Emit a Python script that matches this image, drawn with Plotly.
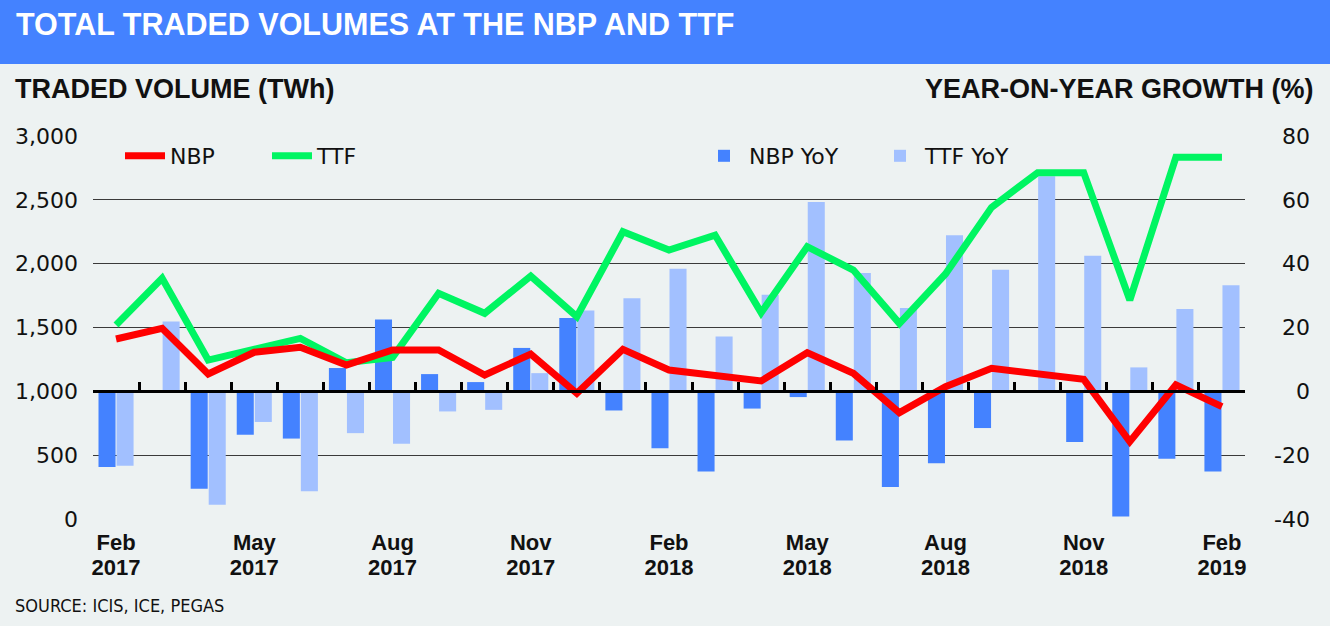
import plotly.graph_objects as go

# ---------------- data ----------------
months = ["Feb 2017", "Mar 2017", "Apr 2017", "May 2017", "Jun 2017", "Jul 2017",
          "Aug 2017", "Sep 2017", "Oct 2017", "Nov 2017", "Dec 2017", "Jan 2018",
          "Feb 2018", "Mar 2018", "Apr 2018", "May 2018", "Jun 2018", "Jul 2018",
          "Aug 2018", "Sep 2018", "Oct 2018", "Nov 2018", "Dec 2018", "Jan 2019",
          "Feb 2019"]

nbp_volume = [1410, 1494, 1136, 1306, 1345, 1206, 1324, 1324, 1128, 1292, 984, 1329,
              1167, 1128, 1081, 1303, 1141, 833, 1036, 1180, 1136, 1094, 606, 1050, 880]
ttf_volume = [1520, 1885, 1245, 1324, 1415, 1224, 1266, 1768, 1611, 1903, 1585, 2250,
              2107, 2224, 1616, 2133, 1950, 1532, 1919, 2441, 2713, 2713, 1715, 2833, 2833]

nbp_yoy = [-23.7, -0.3, -30.5, -13.6, -14.8, 7.3, 22.5, 5.4, 2.9, 13.6, 23.0, -6.0,
           -17.8, -25.1, -5.4, -1.8, -15.4, -30.0, -22.5, -11.5, -0.5, -15.9, -39.2, -21.1, -25.1]
ttf_yoy = [-23.3, 21.9, -35.5, -9.6, -31.3, -13.1, -16.4, -6.3, -5.8, 5.7, 25.3, 29.2,
           38.4, 17.2, 30.3, 59.3, 37.1, 26.1, 48.9, 38.1, 67.4, 42.5, 7.5, 25.8, 33.2]

tick_months = ["Feb 2017", "May 2017", "Aug 2017", "Nov 2017", "Feb 2018",
               "May 2018", "Aug 2018", "Nov 2018", "Feb 2019"]
tick_month_names = ["Feb", "May", "Aug", "Nov", "Feb", "May", "Aug", "Nov", "Feb"]
tick_years = ["2017", "2017", "2017", "2017", "2018", "2018", "2018", "2018", "2019"]

vol_ticks = [0, 500, 1000, 1500, 2000, 2500, 3000]
yoy_ticks = [-40, -20, 0, 20, 40, 60, 80]
yoy_ticktext = ["-40", "-20", "0", "20", "40", "60", "80"]

title_text = "TOTAL TRADED VOLUMES AT THE NBP AND TTF"
left_title = "TRADED VOLUME (TWh)"
right_title = "YEAR-ON-YEAR GROWTH (%)"
source_text = "SOURCE: ICIS, ICE, PEGAS"

# ---------------- style ----------------
W, H = 1330, 626
BG = "#EDF2F2"
BAND = "#4482FF"
NBP_BAR = "#4482FF"
TTF_BAR = "#A2C0FF"
RED = "#FF0000"
GREEN = "#00F562"
TXT = "#111111"
BOLD = "Liberation Sans, Arial, sans-serif"
REG = "DejaVu Sans, sans-serif"

x0, x1 = 93 / W, 1245 / W
yd0, yd1 = 1 - 519 / H, 1 - 136 / H
zero_pos = yd0 + (0 - yoy_ticks[0]) / (yoy_ticks[-1] - yoy_ticks[0]) * (yd1 - yd0)

fig = go.Figure()

# bars on primary axes (x, y = YoY %)
fig.add_trace(go.Bar(x=months, y=nbp_yoy, name="NBP YoY", marker=dict(color=NBP_BAR, line=dict(width=0)),
                     xaxis="x", yaxis="y", legend="legend2", legendrank=1))
fig.add_trace(go.Bar(x=months, y=ttf_yoy, name="TTF YoY", marker=dict(color=TTF_BAR, line=dict(width=0)),
                     xaxis="x", yaxis="y", legend="legend2", legendrank=2))

# invisible helper trace for the zero-line tick axis
fig.add_trace(go.Scatter(x=months, y=nbp_yoy, mode="lines", opacity=0, line=dict(width=0),
                         hoverinfo="skip", showlegend=False, xaxis="x3", yaxis="y"))

# lines on overlay axes (x2, y2 = volume TWh)
fig.add_trace(go.Scatter(x=months, y=ttf_volume, name="TTF", mode="lines",
                         line=dict(color=GREEN, width=7), xaxis="x2", yaxis="y2",
                         legend="legend", legendrank=2))
fig.add_trace(go.Scatter(x=months, y=nbp_volume, name="NBP", mode="lines",
                         line=dict(color=RED, width=7), xaxis="x2", yaxis="y2",
                         legend="legend", legendrank=1))

fig.update_layout(
    width=W, height=H, autosize=False,
    margin=dict(l=0, r=0, t=0, b=0, pad=0, autoexpand=False),
    paper_bgcolor=BG, plot_bgcolor=BG,
    barmode="group", bargap=0.217, bargroupgap=0.055,
    showlegend=True,
    xaxis=dict(domain=[x0, x1], type="category", categoryorder="array", categoryarray=months,
               range=[-0.5, len(months) - 0.5], anchor="y", automargin=False,
               tickmode="array", tickvals=tick_months, ticktext=tick_month_names,
               ticks="", showline=False, showgrid=False, zeroline=False,
               tickfont=dict(family=BOLD, size=22, color=TXT, weight="bold"),
               ticklabelstandoff=8),
    xaxis2=dict(overlaying="x", matches="x", type="category", categoryorder="array",
                categoryarray=months, anchor="y2", side="bottom", automargin=False,
                tickmode="array", tickvals=tick_months, ticktext=tick_years,
                ticks="", showline=False, showgrid=False, zeroline=False,
                tickfont=dict(family=BOLD, size=22, color=TXT, weight="bold"),
                ticklabelstandoff=33),
    xaxis3=dict(overlaying="x", matches="x", type="category", categoryorder="array",
                categoryarray=months, anchor="free", position=zero_pos, automargin=False,
                tickmode="linear", tick0=0, dtick=1, tickson="boundaries",
                ticks="inside", ticklen=8, tickwidth=3, tickcolor="black",
                showticklabels=False, showline=True, linecolor="black", linewidth=3,
                showgrid=False, zeroline=False, layer="above traces"),
    yaxis=dict(domain=[yd0, yd1], range=[yoy_ticks[0], yoy_ticks[-1]], side="right",
               anchor="free", position=1313 / W, automargin=False,
               tickmode="array", tickvals=yoy_ticks, ticktext=yoy_ticktext,
               ticklabelposition="inside", ticklabeloverflow="allow",
               ticks="", showline=False, zeroline=False,
               showgrid=True, gridcolor="#3a3a3a", gridwidth=1.2,
               tickfont=dict(family=REG, size=22, color=TXT)),
    yaxis2=dict(overlaying="y", side="left", anchor="x", range=[vol_ticks[0], vol_ticks[-1]],
                automargin=False,
                tickmode="array", tickvals=vol_ticks, tickformat=",",
                ticks="", showline=False, zeroline=False, showgrid=False,
                ticklabelstandoff=14,
                tickfont=dict(family=REG, size=22, color=TXT)),
    legend=dict(orientation="h", x=120 / W, y=1 - 156 / H, xanchor="left", yanchor="middle",
                bgcolor="rgba(0,0,0,0)", font=dict(family=REG, size=22, color=TXT),
                entrywidth=92, entrywidthmode="pixels", itemwidth=40),
    legend2=dict(orientation="h", x=699 / W, y=1 - 156 / H, xanchor="left", yanchor="middle",
                 bgcolor="rgba(0,0,0,0)", font=dict(family=REG, size=22, color=TXT),
                 entrywidth=121, entrywidthmode="pixels", itemwidth=40),
    shapes=[dict(type="rect", xref="paper", yref="paper", x0=0, x1=1, y0=1 - 64 / H, y1=1,
                 fillcolor=BAND, line=dict(width=0), layer="below")],
    annotations=[
        dict(text=title_text, xref="paper", yref="paper", x=14 / W, y=1 - 24 / H,
             xanchor="left", yanchor="middle", showarrow=False,
             font=dict(family=BOLD, size=30.5, color="white", weight="bold")),
        dict(text=left_title, xref="paper", yref="paper", x=13 / W, y=1 - 89 / H,
             xanchor="left", yanchor="middle", showarrow=False,
             font=dict(family=BOLD, size=27, color=TXT, weight="bold")),
        dict(text=right_title, xref="paper", yref="paper", x=1315 / W, y=1 - 89 / H,
             xanchor="right", yanchor="middle", showarrow=False,
             font=dict(family=BOLD, size=27, color=TXT, weight="bold")),
        dict(text=source_text, xref="paper", yref="paper", x=13 / W, y=1 - 605 / H,
             xanchor="left", yanchor="middle", showarrow=False,
             font=dict(family="Liberation Sans Narrow, DejaVu Sans Condensed, sans-serif",
                       size=18, color=TXT)),
    ],
)

post = (
    "var css='margin:0;padding:0;overflow:hidden;width:1330px;height:626px;background:#EDF2F2;';"
    "document.documentElement.style.cssText=css;"
    "document.body.style.cssText=css;"
    "var g=document.getElementById('{plot_id}');"
    "g.style.position='fixed';g.style.top='0px';g.style.left='0px';g.style.margin='0';"
)

fig.write_html("out.html", config={"displayModeBar": False}, post_script=post)
